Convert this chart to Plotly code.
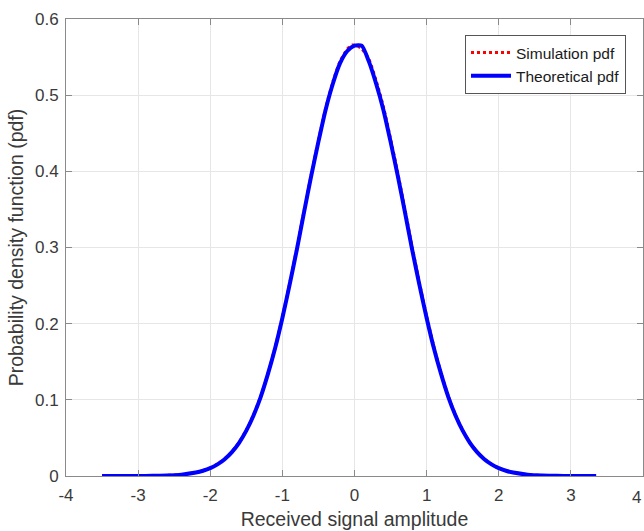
import plotly.graph_objects as go

# Simulation pdf (histogram estimate)
sim_x = [-3.5, -3.2, -3.0, -2.8, -2.6, -2.4, -2.2, -2.1, -2.0, -1.9, -1.8, -1.7, -1.6, -1.5,
         -1.4, -1.3, -1.2, -1.1, -1.0, -0.9, -0.8, -0.7, -0.6, -0.5, -0.4, -0.3, -0.2, -0.1,
         -0.03, 0.05, 0.1, 0.2, 0.3, 0.4, 0.5, 0.6, 0.7, 0.8, 0.9, 1.0, 1.1, 1.2, 1.3, 1.4,
         1.5, 1.6, 1.7, 1.8, 1.9, 2.0, 2.1, 2.2, 2.4, 2.6, 2.8, 3.0, 3.35]
sim_y = [0.0, 0.00004, 0.0001, 0.0003, 0.0008, 0.0019, 0.0047, 0.0071, 0.0106, 0.0158, 0.0226, 0.0318, 0.0442, 0.0601,
         0.0801, 0.1045, 0.1345, 0.1688, 0.2085, 0.2525, 0.2985, 0.3475, 0.3955, 0.4405, 0.4825, 0.5175, 0.5445, 0.5605,
         0.5660, 0.5640, 0.5610, 0.5470, 0.5190, 0.4850, 0.4425, 0.3975, 0.3495, 0.3000, 0.2535, 0.2095, 0.1700, 0.1350, 0.1050, 0.0800,
         0.0600, 0.0440, 0.0316, 0.0222, 0.0155, 0.0104, 0.0070, 0.0046, 0.0018, 0.0007, 0.0002, 0.0001, 0.0]

# Theoretical pdf
th_x = [-3.5, -3.2, -3.0, -2.8, -2.6, -2.4, -2.2, -2.1, -2.0, -1.9, -1.8, -1.7, -1.6, -1.5,
        -1.4, -1.3, -1.2, -1.1, -1.0, -0.9, -0.8, -0.7, -0.6, -0.5, -0.4, -0.3, -0.2, -0.1,
        0.0, 0.1, 0.2, 0.3, 0.4, 0.5, 0.6, 0.7, 0.8, 0.9, 1.0, 1.1, 1.2, 1.3, 1.4,
        1.5, 1.6, 1.7, 1.8, 1.9, 2.0, 2.1, 2.2, 2.4, 2.6, 2.8, 3.0, 3.35]
th_y = [0.0, 0.00003, 0.0001, 0.0002, 0.0007, 0.0018, 0.0045, 0.0069, 0.0103, 0.0153, 0.0221, 0.0314, 0.0436, 0.0595,
        0.0795, 0.104, 0.134, 0.168, 0.2075, 0.251, 0.297, 0.346, 0.394, 0.439, 0.481, 0.515, 0.542, 0.558,
        0.565, 0.565, 0.544, 0.515, 0.481, 0.439, 0.394, 0.346, 0.297, 0.251, 0.2075, 0.168, 0.134, 0.104, 0.0795,
        0.0595, 0.0436, 0.0314, 0.0221, 0.0153, 0.0103, 0.0069, 0.0045, 0.0018, 0.0007, 0.0002, 0.0001, 0.0]

x_ticks = [-4, -3, -2, -1, 0, 1, 2, 3, 4]
y_ticks = [0, 0.1, 0.2, 0.3, 0.4, 0.5, 0.6]
y_tick_text = ["0", "0.1", "0.2", "0.3", "0.4", "0.5", "0.6"]

FONT = "Liberation Sans, Arial, sans-serif"
TXT = "#3a3a3a"
LINE = "#8a8a8a"
GRID = "#e6e6e6"

fig = go.Figure()
fig.add_trace(go.Scatter(x=sim_x, y=sim_y, mode="lines", name="Simulation pdf",
                         line=dict(color="#ff0000", width=3, dash="dot", shape="spline", smoothing=0.6)))
fig.add_trace(go.Scatter(x=th_x, y=th_y, mode="lines", name="Theoretical pdf",
                         line=dict(color="#0000ff", width=4, shape="spline", smoothing=0.6)))

axis_common = dict(showline=True, linecolor=LINE, linewidth=1, mirror="ticks",
                   ticks="inside", ticklen=6, tickcolor=LINE, showgrid=True,
                   gridcolor=GRID, gridwidth=1, zeroline=False,
                   tickfont=dict(family=FONT, size=17, color=TXT))

fig.update_layout(
    width=644, height=531,
    margin=dict(l=66, r=1, t=19, b=55),
    paper_bgcolor="white", plot_bgcolor="white",
    font=dict(family=FONT, color=TXT),
    showlegend=True,
    legend=dict(x=0.6915, y=0.965, xanchor="left", yanchor="top",
                bgcolor="white", bordercolor="#555555", borderwidth=1,
                font=dict(family=FONT, size=15.5, color="#1a1a1a"),
                tracegroupgap=0, itemwidth=40),
    xaxis=dict(range=[-4, 4], tickvals=x_ticks, ticktext=[str(v) for v in x_ticks],
               ticklabelstandoff=4,
               title=dict(text="Received signal amplitude", font=dict(family=FONT, size=19.5, color=TXT), standoff=7),
               **axis_common),
    yaxis=dict(range=[0, 0.6], tickvals=y_ticks, ticktext=y_tick_text,
               ticklabelstandoff=3,
               title=dict(text="Probability density function (pdf)", font=dict(family=FONT, size=19.5, color=TXT), standoff=6),
               **axis_common),
)

# the right-most x tick label sits at the page edge; keep it just inside the page
fig.add_annotation(x=x_ticks[-1], y=0, xref="x", yref="y", text=str(x_ticks[-1]),
                   showarrow=False, yshift=-21, xanchor="right", yanchor="middle", xshift=0,
                   font=dict(family=FONT, size=17, color=TXT))

fig.write_html("out.html")
